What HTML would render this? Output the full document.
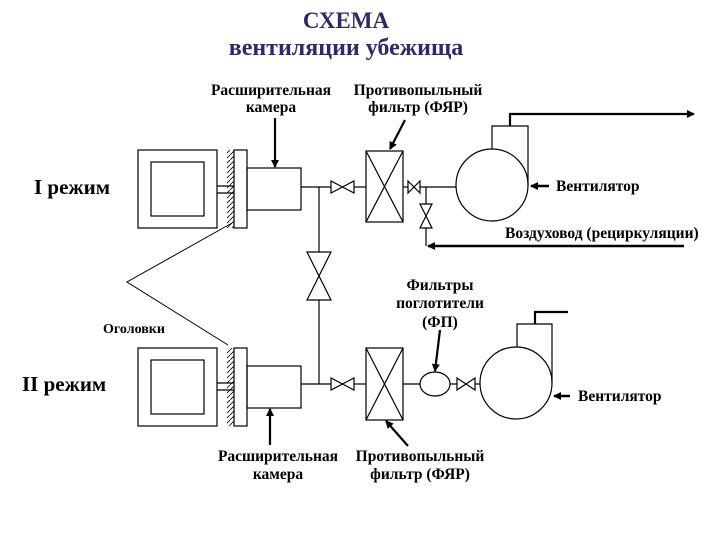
<!DOCTYPE html>
<html><head><meta charset="utf-8"><style>
body{margin:0;background:#fff}
svg{display:block}
text{font-family:"Liberation Serif","DejaVu Serif",serif;fill:#000}
</style></head><body>
<svg width="720" height="540" viewBox="0 0 720 540" xmlns="http://www.w3.org/2000/svg">
<defs>
<marker id="a" markerWidth="8" markerHeight="8" refX="7" refY="4" orient="auto" markerUnits="userSpaceOnUse"><path d="M0,0 L8,4 L0,8 Z" fill="#000"/></marker>
<pattern id="h" width="5" height="5" patternUnits="userSpaceOnUse"><path d="M0,5 L5,0" stroke="#000" stroke-width="0.8"/></pattern>
</defs>
<text x="346" y="28" text-anchor="middle" font-size="23" font-weight="bold" style="fill:#2b2b6b">СХЕМА</text>
<text x="346" y="55" text-anchor="middle" font-size="24" font-weight="bold" style="fill:#2b2b6b">вентиляции убежища</text>
<g font-size="15.5" font-weight="bold" text-anchor="middle">
<text x="271" y="95">Расширительная</text><text x="271" y="112">камера</text>
<text x="418" y="95">Противопыльный</text><text x="418" y="112">фильтр (ФЯР)</text>
<text x="278" y="461">Расширительная</text><text x="278" y="479">камера</text>
<text x="420" y="461">Противопыльный</text><text x="420" y="479">фильтр (ФЯР)</text>
<text x="440" y="290">Фильтры</text><text x="440" y="308">поглотители</text><text x="440" y="327">(ФП)</text>
</g>
<g font-size="15.5" font-weight="bold">
<text x="556" y="191">Вентилятор</text>
<text x="505" y="238">Воздуховод (рециркуляции)</text>
<text x="578" y="401">Вентилятор</text>
<text x="103" y="333" font-size="14">Оголовки</text>
</g>
<text x="34" y="194" font-size="21" font-weight="bold">I режим</text>
<text x="22" y="391" font-size="21" font-weight="bold">II режим</text>
<g fill="none" stroke="#000" stroke-width="1.2">
<rect x="138" y="150" width="79" height="78"/><rect x="151" y="162" width="53" height="54"/>
<line x1="217" y1="186" x2="234" y2="186"/><line x1="217" y1="193" x2="234" y2="193"/>
<rect x="227" y="150" width="7" height="78" fill="url(#h)" stroke="none"/>
<rect x="234" y="150" width="13" height="78"/>
<rect x="247" y="168" width="54" height="42"/>
<line x1="301" y1="187" x2="331" y2="187"/><line x1="354" y1="187" x2="366" y2="187"/>
<path d="M331,181 L354,193 L354,181 L331,193 Z"/>
<rect x="366" y="151" width="37" height="71"/><path d="M366,151 L403,222 M403,151 L366,222"/>
<line x1="403" y1="187" x2="408" y2="187"/><path d="M408,181 L420,193 L420,181 L408,193 Z"/>
<line x1="420" y1="187" x2="456" y2="187"/>
<line x1="426" y1="187" x2="426" y2="204"/><path d="M420,204 L432,228 L420,228 L432,204 Z"/>
<line x1="426" y1="228" x2="426" y2="246"/>
<line x1="684" y1="246" x2="428" y2="246" stroke-width="2.5" marker-end="url(#a)"/>
<circle cx="492" cy="185" r="36"/>
<path d="M492,149 L492,126 L528,126 L528,185"/>
<path d="M510,126 L510,114 L694,114" stroke-width="2.2" marker-end="url(#a)"/>
<line x1="549" y1="186" x2="531" y2="186" stroke-width="2.5" marker-end="url(#a)"/>
<line x1="275" y1="118" x2="275" y2="167" stroke-width="2.2" marker-end="url(#a)"/>
<line x1="405" y1="120" x2="390" y2="149" stroke-width="2.2" marker-end="url(#a)"/>
<line x1="319" y1="187" x2="319" y2="252"/><path d="M307,252 L331,300 L307,300 L331,252 Z"/>
<line x1="319" y1="300" x2="319" y2="384"/>
<path d="M232,223 L127,282 L228,345" stroke-width="1"/>
<rect x="138" y="348" width="79" height="78"/><rect x="151" y="360" width="53" height="54"/>
<line x1="217" y1="383" x2="234" y2="383"/><line x1="217" y1="390" x2="234" y2="390"/>
<rect x="227" y="348" width="7" height="78" fill="url(#h)" stroke="none"/>
<rect x="234" y="348" width="13" height="78"/>
<rect x="247" y="366" width="54" height="42"/>
<line x1="301" y1="384" x2="331" y2="384"/><line x1="354" y1="384" x2="366" y2="384"/>
<path d="M331,378 L354,390 L354,378 L331,390 Z"/>
<rect x="366" y="348" width="37" height="72"/><path d="M366,348 L403,420 M403,348 L366,420"/>
<line x1="403" y1="384" x2="420" y2="384"/>
<ellipse cx="435" cy="384" rx="15" ry="12"/>
<line x1="450" y1="384" x2="457" y2="384"/><path d="M457,378 L475,390 L475,378 L457,390 Z"/>
<line x1="475" y1="384" x2="480" y2="384"/>
<circle cx="516" cy="383" r="36"/>
<path d="M517,347 L517,324 L552,324 L552,383"/>
<path d="M535,324 L535,312 L568,312" stroke-width="2.2"/>
<line x1="570" y1="396" x2="554" y2="396" stroke-width="2.5" marker-end="url(#a)"/>
<line x1="440" y1="330" x2="435" y2="371" stroke-width="2.2" marker-end="url(#a)"/>
<line x1="270" y1="445" x2="270" y2="409" stroke-width="2.2" marker-end="url(#a)"/>
<line x1="408" y1="446" x2="386" y2="421" stroke-width="2.2" marker-end="url(#a)"/>
</g>
</svg>
</body></html>
